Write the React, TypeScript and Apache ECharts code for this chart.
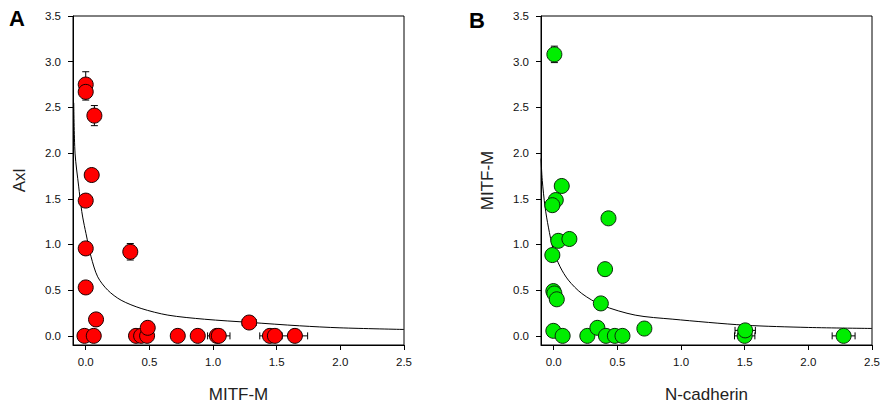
import React, { useEffect, useRef } from "react";
import * as echarts from "echarts";

// Panel A: Axl vs MITF-M (red)
const aX = [0.0, 0.0, 0.068, 0.047, 0.0, 0.0, 0.35, 0.0, 0.081, -0.01, 0.063, 0.395, 0.435, 0.482, 0.487, 0.723, 0.88, 1.03, 1.045, 1.284, 1.447, 1.486, 1.643];
const aY = [2.75, 2.67, 2.41, 1.76, 1.48, 0.957, 0.92, 0.53, 0.18, 0.0, 0.0, 0.0, 0.0, 0.0, 0.088, 0.0, 0.0, 0.0, 0.0, 0.146, 0.0, 0.0, 0.0];
const aXErr = [0, 0, 0, 0, 0, 0, 0, 0, 0, 0, 0, 0, 0, 0, 0, 0, 0, 0, 0.088, 0.055, 0.08, 0, 0.1];
const aYErr = [0.14, 0.09, 0.11, 0, 0, 0, 0.09, 0, 0, 0, 0, 0, 0, 0, 0, 0, 0, 0, 0, 0, 0, 0, 0];
const aCurveX = [-0.094, -0.084, -0.055, -0.037, -0.024, 0.002, 0.042, 0.094, 0.173, 0.278, 0.435, 0.645, 0.933, 1.29, 1.68, 1.997, 2.5];
const aCurveY = [2.55, 2.0, 1.63, 1.42, 1.3, 1.12, 0.865, 0.646, 0.5, 0.39, 0.3, 0.227, 0.182, 0.147, 0.11, 0.088, 0.07];

// Panel B: MITF-M vs N-cadherin (green)
const bX = [0.005, 0.063, 0.016, -0.011, 0.43, 0.036, 0.123, -0.011, 0.403, -0.003, 0.005, 0.024, 0.37, -0.003, 0.07, 0.264, 0.343, 0.41, 0.48, 0.54, 0.712, 1.5, 1.504, 2.277];
const bY = [3.08, 1.64, 1.486, 1.43, 1.286, 1.04, 1.06, 0.884, 0.73, 0.49, 0.464, 0.4, 0.355, 0.055, 0.0, 0.0, 0.088, 0.0, 0.0, 0.0, 0.08, 0.0, 0.06, 0.0];
const bXErr = [0, 0, 0, 0, 0, 0, 0, 0, 0, 0, 0, 0, 0, 0, 0, 0, 0, 0, 0, 0, 0, 0.08, 0.08, 0.09];
const bYErr = [0.09, 0.065, 0, 0, 0, 0, 0, 0, 0, 0, 0, 0, 0, 0, 0, 0, 0, 0, 0, 0, 0, 0, 0, 0];
const bCurveX = [-0.1, -0.09, -0.068, -0.042, -0.003, 0.05, 0.115, 0.22, 0.377, 0.64, 0.93, 1.5, 2.0, 2.5];
const bCurveY = [1.94, 1.7, 1.41, 1.19, 0.94, 0.756, 0.61, 0.464, 0.336, 0.227, 0.183, 0.117, 0.092, 0.081];

const xTicks = [0, 0.5, 1.0, 1.5, 2.0, 2.5];
const yTicks = [0, 0.5, 1.0, 1.5, 2.0, 2.5, 3.0, 3.5];

const FONT = "Liberation Sans, Arial, sans-serif";

function zip(...arrs: number[][]) {
  return arrs[0].map((_, i) => arrs.map((a) => a[i]));
}

function errRender(params: any, api: any) {
  const x = api.value(0);
  const y = api.value(1);
  const xe = api.value(2);
  const ye = api.value(3);
  const children: any[] = [];
  const style = { stroke: "#000", lineWidth: 1 };
  const cap = 3.5;
  if (ye > 0) {
    const top = api.coord([x, y + ye]);
    const bot = api.coord([x, y - ye]);
    children.push({ type: "line", shape: { x1: top[0], y1: top[1], x2: bot[0], y2: bot[1] }, style });
    children.push({ type: "line", shape: { x1: top[0] - cap, y1: top[1], x2: top[0] + cap, y2: top[1] }, style });
    children.push({ type: "line", shape: { x1: bot[0] - cap, y1: bot[1], x2: bot[0] + cap, y2: bot[1] }, style });
  }
  if (xe > 0) {
    const l = api.coord([x - xe, y]);
    const r = api.coord([x + xe, y]);
    children.push({ type: "line", shape: { x1: l[0], y1: l[1], x2: r[0], y2: r[1] }, style });
    children.push({ type: "line", shape: { x1: l[0], y1: l[1] - cap, x2: l[0], y2: l[1] + cap }, style });
    children.push({ type: "line", shape: { x1: r[0], y1: r[1] - cap, x2: r[0], y2: r[1] + cap }, style });
  }
  return { type: "group", children };
}

function xAxisCfg(gridIndex: number, name: string) {
  return {
    type: "value",
    gridIndex,
    min: -0.1,
    max: 2.5,
    name,
    nameLocation: "middle",
    nameGap: 41,
    nameTextStyle: { fontSize: 17, color: "#222", fontFamily: FONT },
    axisLine: { show: true, onZero: false, lineStyle: { color: "#000", width: 1 } },
    axisTick: { show: true, length: 5, customValues: xTicks, lineStyle: { color: "#000" } },
    axisLabel: {
      customValues: xTicks,
      fontSize: 11.5,
      color: "#111",
      fontFamily: FONT,
      margin: 11,
      formatter: (v: number) => v.toFixed(1),
    },
    splitLine: { show: false },
  };
}

function yAxisCfg(gridIndex: number, name: string) {
  return {
    type: "value",
    gridIndex,
    min: -0.1,
    max: 3.5,
    name,
    nameLocation: "middle",
    nameGap: 45,
    nameTextStyle: { fontSize: 17, color: "#222", fontFamily: FONT },
    axisLine: { show: true, onZero: false, lineStyle: { color: "#000", width: 1 } },
    axisTick: { show: true, length: 5, customValues: yTicks, lineStyle: { color: "#000" } },
    axisLabel: {
      customValues: yTicks,
      fontSize: 11.5,
      color: "#111",
      fontFamily: FONT,
      margin: 12,
      formatter: (v: number) => v.toFixed(1),
    },
    splitLine: { show: false },
  };
}

export default function App() {
  const ref = useRef<HTMLDivElement>(null);
  useEffect(() => {
    if (!ref.current) return;
    const chart = echarts.init(ref.current, null, { renderer: "svg" });
    chart.setOption({
      animation: false,
      backgroundColor: "#fff",
      grid: [
        { left: 73, top: 16, right: 488, bottom: 71, show: true, borderColor: "#000", borderWidth: 1 },
        { left: 541, top: 16, right: 20, bottom: 71, show: true, borderColor: "#000", borderWidth: 1 },
      ],
      xAxis: [xAxisCfg(0, "MITF-M"), xAxisCfg(1, "N-cadherin")],
      yAxis: [yAxisCfg(0, "Axl"), yAxisCfg(1, "MITF-M")],
      graphic: [
        { type: "text", left: 9, top: 7, style: { text: "A", font: "bold 22px " + FONT, fill: "#000" } },
        { type: "text", left: 469, top: 9, style: { text: "B", font: "bold 22px " + FONT, fill: "#000" } },
      ],
      series: [
        {
          type: "line",
          xAxisIndex: 0,
          yAxisIndex: 0,
          data: zip(aCurveX, aCurveY),
          smooth: 0.3,
          showSymbol: false,
          lineStyle: { color: "#000", width: 1 },
          z: 1,
        },
        {
          type: "custom",
          xAxisIndex: 0,
          yAxisIndex: 0,
          data: zip(aX, aY, aXErr, aYErr),
          renderItem: errRender,
          encode: { x: 0, y: 1 },
          z: 2,
        },
        {
          type: "scatter",
          xAxisIndex: 0,
          yAxisIndex: 0,
          data: zip(aX, aY),
          symbolSize: 15,
          itemStyle: { color: "#ff0000", borderColor: "#1a0000", borderWidth: 1, opacity: 1 },
          z: 3,
        },
        {
          type: "line",
          xAxisIndex: 1,
          yAxisIndex: 1,
          data: zip(bCurveX, bCurveY),
          smooth: 0.3,
          showSymbol: false,
          lineStyle: { color: "#000", width: 1 },
          z: 1,
        },
        {
          type: "custom",
          xAxisIndex: 1,
          yAxisIndex: 1,
          data: zip(bX, bY, bXErr, bYErr),
          renderItem: errRender,
          encode: { x: 0, y: 1 },
          z: 2,
        },
        {
          type: "scatter",
          xAxisIndex: 1,
          yAxisIndex: 1,
          data: zip(bX, bY),
          symbolSize: 15,
          itemStyle: { color: "#00ee00", borderColor: "#0a2a0a", borderWidth: 1, opacity: 1 },
          z: 3,
        },
      ],
    });
    return () => chart.dispose();
  }, []);
  return <div ref={ref} style={{ width: 892, height: 416, position: "absolute", left: 0, top: 0 }} />;
}
